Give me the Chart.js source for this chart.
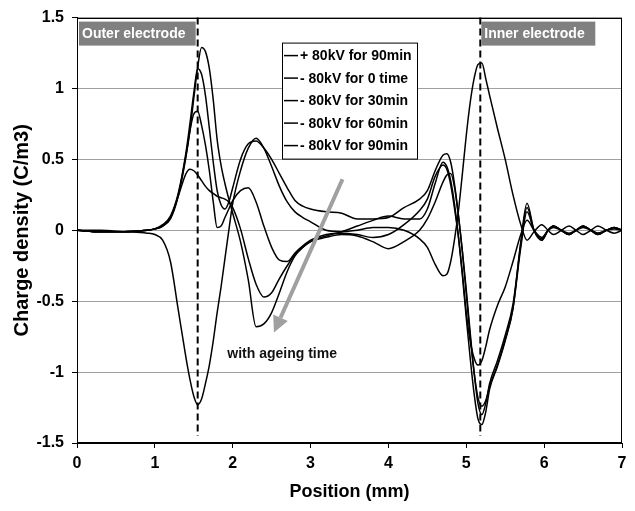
<!DOCTYPE html>
<html>
<head>
<meta charset="utf-8">
<script src="https://cdn.jsdelivr.net/npm/chart.js@4.4.1/dist/chart.umd.min.js"></script>
<style>
  html, body { margin: 0; padding: 0; background: #fff; }
  #wrap { width: 635px; height: 511px; }
</style>
</head>
<body>
<div id="wrap"><canvas id="chart" width="635" height="511"></canvas></div>
<script>
// position in mm (shared by all series)
const positions = [
  0, 0.3, 0.6, 0.9, 1.0, 1.1, 1.2, 1.3, 1.4, 1.45,
  1.5, 1.55, 1.6, 1.65, 1.7, 1.75, 1.8, 1.85, 1.9, 1.95,
  2.0, 2.1, 2.2, 2.3, 2.4, 2.5, 2.6, 2.7, 2.8, 2.9,
  3.0, 3.2, 3.4, 3.6, 3.8, 4.0, 4.2, 4.4, 4.5, 4.6,
  4.7, 4.75, 4.8, 4.85, 4.9, 4.95, 5.0, 5.05, 5.1, 5.15,
  5.2, 5.25, 5.3, 5.4, 5.5, 5.6, 5.7, 5.78, 5.87, 5.97,
  6.05, 6.12, 6.22, 6.32, 6.41, 6.5, 6.6, 6.69, 6.8, 6.9, 7.0
];

const plus90min = [
  0, 0, -0.01, -0.02, -0.03, -0.07, -0.22, -0.56, -0.9, -1.05,
  -1.17, -1.23, -1.19, -1.08, -0.95, -0.78, -0.58, -0.4, -0.2, 0.0,
  0.19, 0.42, 0.58, 0.65, 0.58, 0.45, 0.31, 0.2, 0.13, 0.09,
  0.06, 0.0, -0.01, 0.0, 0.02, 0.02, 0.0, -0.06, -0.12, -0.24,
  -0.32, -0.31, -0.22, -0.06, 0.14, 0.4, 0.67, 0.9, 1.07, 1.17,
  1.18, 1.07, 0.95, 0.72, 0.5, 0.25, 0.04, -0.07, -0.01, 0.04,
  0.0, -0.03, 0.0, 0.03, 0.0, -0.03, 0.0, 0.03, 0.0, -0.02, 0.0
];

const minus0time = [
  0, -0.01, -0.01, 0.0, 0.01, 0.03, 0.09, 0.25, 0.53, 0.7,
  0.82, 0.84, 0.74, 0.6, 0.42, 0.2, 0.02, 0.03, 0.09, 0.15,
  0.21, 0.28, 0.3, 0.2, 0.03, -0.12, -0.21, -0.22, -0.16, -0.11,
  -0.07, -0.03, -0.02, -0.03, -0.05, -0.03, 0.04, 0.14, 0.22, 0.38,
  0.46, 0.43, 0.32, 0.15, -0.05, -0.3, -0.58, -0.78, -0.9, -0.95,
  -0.92, -0.82, -0.7, -0.53, -0.4, -0.22, -0.03, 0.07, 0.0, -0.05,
  0.0, 0.02, 0.0, -0.02, 0.0, 0.02, 0.0, -0.02, 0.0, 0.01, 0.0
];

const minus30min = [
  0, -0.01, -0.01, 0.0, 0.01, 0.04, 0.1, 0.26, 0.55, 0.75,
  0.97, 1.14, 1.1, 0.95, 0.72, 0.48, 0.28, 0.18, 0.15, 0.2,
  0.3, 0.5, 0.61, 0.63, 0.58, 0.5, 0.4, 0.3, 0.21, 0.17,
  0.15, 0.13, 0.12, 0.08, 0.08, 0.09, 0.16, 0.22, 0.28, 0.42,
  0.53, 0.54, 0.48, 0.32, 0.1, -0.15, -0.42, -0.72, -1.0, -1.22,
  -1.3, -1.22, -1.08, -0.92, -0.74, -0.52, -0.1, 0.16, 0.0, -0.07,
  0.0, 0.03, 0.0, -0.03, 0.0, 0.03, 0.0, -0.03, 0.0, 0.02, 0.0
];

const minus60min = [
  0, -0.01, -0.01, 0.0, 0.01, 0.03, 0.09, 0.24, 0.4, 0.43,
  0.42, 0.39, 0.35, 0.31, 0.28, 0.26, 0.24, 0.23, 0.22, 0.2,
  0.16, 0.01, -0.2, -0.38, -0.47, -0.44, -0.34, -0.25, -0.17, -0.12,
  -0.08, -0.05, -0.03, -0.04, -0.08, -0.13, -0.08, 0.0, 0.08, 0.2,
  0.34, 0.39, 0.4, 0.3, 0.1, -0.15, -0.45, -0.75, -1.0, -1.18,
  -1.24, -1.2, -1.1, -0.95, -0.77, -0.55, -0.12, 0.13, 0.0, -0.06,
  0.0, 0.03, 0.0, -0.03, 0.0, 0.03, 0.0, -0.02, 0.0, 0.02, 0.0
];

const minus90min = [
  0, -0.01, -0.01, 0.0, 0.01, 0.03, 0.08, 0.24, 0.52, 0.7,
  0.93, 1.15, 1.29, 1.26, 1.14, 0.92, 0.64, 0.46, 0.33, 0.22,
  0.12, -0.08, -0.35, -0.68, -0.66, -0.58, -0.44, -0.29, -0.18, -0.12,
  -0.08, -0.04, -0.01, 0.03, 0.07, 0.1, 0.08, 0.08, 0.15, 0.33,
  0.48, 0.45, 0.35, 0.18, -0.05, -0.32, -0.62, -0.9, -1.15, -1.33,
  -1.37, -1.28, -1.12, -0.96, -0.78, -0.55, -0.08, 0.19, 0.0, -0.07,
  0.0, 0.03, 0.0, -0.03, 0.0, 0.03, 0.0, -0.03, 0.0, 0.02, 0.0
];

const seriesLabels = [
  "+ 80kV for 90min",
  "- 80kV for 0 time",
  "- 80kV for 30min",
  "- 80kV for 60min",
  "- 80kV for 90min"
];
const seriesValues = [plus90min, minus0time, minus30min, minus60min, minus90min];

// electrode positions (mm) and the ageing arrow (mm, C/m3)
const outerElectrode = 1.55;
const innerElectrode = 5.18;
const arrowFrom = { x: 3.41, y: 0.36 };
const arrowTo = { x: 2.53, y: -0.72 };
const arrowNote = { x: 1.93, y: -0.87, text: "with ageing time" };

const family = "'Liberation Sans', Arial, sans-serif";
const bold = (size) => "bold " + size + "px " + family;

Chart.defaults.font.family = family;
Chart.defaults.font.weight = "bold";
Chart.defaults.font.size = 16;
Chart.defaults.color = "#000";

const overlay = {
  id: "overlay",
  afterDatasetsDraw(chart) {
    const { ctx, chartArea: a, scales: { x, y } } = chart;
    ctx.save();

    // frame round the plot
    ctx.strokeStyle = "#000";
    ctx.lineWidth = 1;
    ctx.strokeRect(Math.round(a.left) + 0.5, Math.round(a.top) + 0.5,
      Math.round(a.right - a.left) - 1, Math.round(a.bottom - a.top) - 1);

    // electrode dashed lines
    ctx.setLineDash([7, 4]);
    ctx.lineWidth = 2;
    [outerElectrode, innerElectrode].forEach((pos) => {
      const px = x.getPixelForValue(pos);
      ctx.beginPath();
      ctx.moveTo(px, a.top);
      ctx.lineTo(px, y.getPixelForValue(-1.45));
      ctx.stroke();
    });
    ctx.setLineDash([]);

    // electrode labels
    const xo = x.getPixelForValue(outerElectrode);
    const xi = x.getPixelForValue(innerElectrode);
    ctx.fillStyle = "#808080";
    ctx.fillRect(a.left + 2, a.top + 4, xo - 2 - (a.left + 2), 24);
    ctx.fillRect(xi + 1, a.top + 4, 114, 24);
    ctx.fillStyle = "#fff";
    ctx.font = bold(14);
    ctx.textBaseline = "middle";
    ctx.textAlign = "left";
    ctx.fillText("Outer electrode", a.left + 5, a.top + 16.5);
    ctx.fillText("Inner electrode", xi + 4, a.top + 16.5);

    // legend
    const lx = a.left + 205, ly = a.top + 25, lw = 135, lh = 116;
    ctx.fillStyle = "#fff";
    ctx.fillRect(lx, ly, lw, lh);
    ctx.strokeStyle = "#000";
    ctx.lineWidth = 1;
    ctx.strokeRect(lx + 0.5, ly + 0.5, lw, lh);
    ctx.font = bold(14);
    chart.data.datasets.forEach((ds, i) => {
      const cy = ly + 13 + i * 22.5;
      ctx.beginPath();
      ctx.moveTo(lx + 2, cy);
      ctx.lineTo(lx + 16, cy);
      ctx.lineWidth = 1.5;
      ctx.stroke();
      ctx.fillStyle = "#000";
      ctx.fillText(ds.label, lx + 18, cy + 1);
    });

    // ageing arrow
    const x0 = x.getPixelForValue(arrowFrom.x), y0 = y.getPixelForValue(arrowFrom.y);
    const x1 = x.getPixelForValue(arrowTo.x), y1 = y.getPixelForValue(arrowTo.y);
    const ang = Math.atan2(y1 - y0, x1 - x0);
    const head = 16, half = 8;
    const bx = x1 - head * Math.cos(ang), by = y1 - head * Math.sin(ang);
    ctx.strokeStyle = "#a0a0a0";
    ctx.fillStyle = "#a0a0a0";
    ctx.lineWidth = 4;
    ctx.beginPath();
    ctx.moveTo(x0, y0);
    ctx.lineTo(bx, by);
    ctx.stroke();
    ctx.beginPath();
    ctx.moveTo(x1, y1);
    ctx.lineTo(bx + half * Math.sin(ang), by - half * Math.cos(ang));
    ctx.lineTo(bx - half * Math.sin(ang), by + half * Math.cos(ang));
    ctx.closePath();
    ctx.fill();

    ctx.fillStyle = "#111";
    ctx.font = bold(14);
    ctx.fillText(arrowNote.text, x.getPixelForValue(arrowNote.x), y.getPixelForValue(arrowNote.y));

    ctx.restore();
  }
};

new Chart(document.getElementById("chart"), {
  type: "line",
  data: {
    datasets: seriesValues.map((vals, i) => ({
      label: seriesLabels[i],
      data: positions.map((p, j) => ({ x: p, y: vals[j] })),
      borderColor: "#000",
      borderWidth: 1.5,
      pointRadius: 0,
      fill: false,
      cubicInterpolationMode: "monotone",
    })),
  },
  options: {
    responsive: false,
    animation: false,
    layout: { padding: { left: 0, right: 13, top: 17, bottom: 0 } },
    plugins: { legend: { display: false }, tooltip: { enabled: false } },
    scales: {
      x: {
        type: "linear",
        min: 0,
        max: 7,
        afterFit: (s) => { s.height = 68; },
        ticks: { stepSize: 1, color: "#000", padding: 6 },
        grid: { drawOnChartArea: false, tickLength: 5, tickColor: "#000" },
        border: { color: "#000", width: 1 },
        title: {
          display: true,
          text: "Position (mm)",
          color: "#000",
          font: { size: 18 },
          padding: { top: 0, bottom: 8 },
        },
      },
      y: {
        min: -1.5,
        max: 1.5,
        afterFit: (s) => { s.width = 77; },
        ticks: {
          stepSize: 0.5,
          color: "#000",
          padding: 8,
          callback: (v) => String(v),
        },
        grid: { color: "#a0a0a0", lineWidth: 1, tickLength: 5, tickColor: "#000" },
        border: { color: "#000", width: 1 },
        title: {
          display: true,
          text: "Charge density (C/m3)",
          color: "#000",
          font: { size: 20 },
          padding: { top: 10, bottom: 0 },
        },
      },
    },
  },
  plugins: [overlay],
});
</script>
</body>
</html>
